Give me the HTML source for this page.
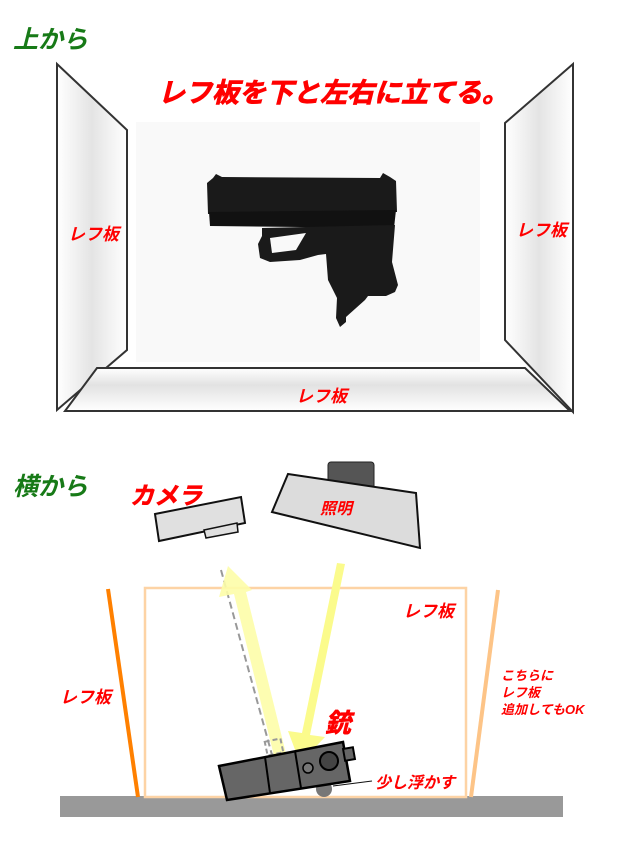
<!DOCTYPE html>
<html><head><meta charset="utf-8"><style>
body{margin:0;background:#fff;width:630px;height:846px;overflow:hidden}
svg text{font-family:"Liberation Sans","Noto Sans CJK JP",sans-serif;font-weight:bold;font-style:italic}
</style></head><body>
<svg width="630" height="846" viewBox="0 0 630 846" xmlns="http://www.w3.org/2000/svg">
<defs>
<linearGradient id="gl" x1="0" x2="1"><stop offset="0" stop-color="#fff"/><stop offset=".5" stop-color="#e4e4e4"/><stop offset="1" stop-color="#fff"/></linearGradient>
<linearGradient id="gb" x1="0" y1="0" x2="0" y2="1"><stop offset="0" stop-color="#fff"/><stop offset=".4" stop-color="#e2e2e2"/><stop offset="1" stop-color="#fff"/></linearGradient>
</defs>
<text x="13" y="48" font-size="25" fill="#177a17">上から</text>
<polygon points="57,64 127,130 127,350 57,410" fill="url(#gl)" stroke="#333" stroke-width="2"/>
<polygon points="573,64 505,123 505,340 573,412" fill="url(#gl)" stroke="#333" stroke-width="2"/>
<polygon points="97,368 525,368 570,411 65,411" fill="url(#gb)" stroke="#333" stroke-width="2"/>
<rect x="136" y="122" width="344" height="240" fill="#f9f9f9"/>
<text x="158" y="102" font-size="27" fill="#f00" stroke="#f00" stroke-width=".8">レフ板を下と左右に立てる。</text>
<text x="68" y="240" font-size="17" fill="#f00">レフ板</text>
<text x="516" y="236" font-size="17" fill="#f00">レフ板</text>
<text x="296" y="402" font-size="17" fill="#f00">レフ板</text>
<!-- gun top view -->
<g fill="#1a1a1a">
<path d="M207,183 L213,178 L216,174 L222,177 L380,178 L383,173 L390,177 L396,181 L397,212 L208,214 Z"/>
<path d="M209,212 L396,210 L394,228 L210,226 Z" fill="#111"/>
<path d="M262,228 L395,225 L392,262 L398,285 L395,292 L386,296 L368,296 L365,300 L346,317 L346,322 L340,327 L336,318 L337,298 L328,280 L326,254 L318,255 L300,260 L270,262 L260,258 L258,244 L262,236 Z"/>
</g>
<path d="M270,238 L306,233 L296,250 L272,253 Z" fill="#f9f9f9"/>
<!-- side view -->
<text x="13" y="495" font-size="25" fill="#177a17">横から</text>
<rect x="60" y="796" width="503" height="21" fill="#999"/>
<rect x="145" y="588" width="321" height="209" fill="none" stroke="#fdd3a5" stroke-width="2.5"/>
<line x1="108" y1="589" x2="138" y2="797" stroke="#ff8000" stroke-width="4"/>
<line x1="498" y1="590" x2="471" y2="797" stroke="#fdc487" stroke-width="4"/>
<!-- camera -->
<polygon points="155,514 241,497 245,523 159,541" fill="#e0e0e0" stroke="#111" stroke-width="2"/>
<polygon points="204,530 237,523 238,532 206,538" fill="#e0e0e0" stroke="#111" stroke-width="1.5"/>
<!-- light -->
<rect x="328" y="462" width="46" height="27" rx="3" fill="#555" stroke="#222"/>
<polygon points="288,474 416,493 420,548 272,512" fill="#dcdcdc" stroke="#111" stroke-width="2"/>
<text x="320" y="514" font-size="16" fill="#f00">照明</text>
<text x="130" y="504" font-size="24" fill="#f00" stroke="#f00" stroke-width=".6">カメラ</text>
<!-- arrows -->
<line x1="221" y1="570" x2="272" y2="755" stroke="#999" stroke-width="2" stroke-dasharray="7,4"/>
<polygon points="228,566 252,590 246,592 292,778 280,780 234,594 219,597" fill="#fdfda8" opacity=".9"/>
<polygon points="337,563 345,564 310,735 325,737 300,763 288,731 302,733" fill="#fbfb8c"/>
<rect x="266" y="740" width="16" height="14" fill="none" stroke="#999" stroke-width="2" stroke-dasharray="5,3" transform="rotate(-12 274 747)"/>
<!-- gun side -->
<circle cx="324" cy="789" r="8" fill="#777"/>
<line x1="333" y1="786" x2="372" y2="781" stroke="#111"/>
<polygon points="219,766 343,742 350,781 227,800" fill="#666" stroke="#000" stroke-width="2.5"/>
<line x1="265" y1="757" x2="270" y2="793" stroke="#000" stroke-width="2"/>
<line x1="295" y1="751" x2="301" y2="788" stroke="#000" stroke-width="2"/>
<rect x="344" y="748" width="10" height="12" fill="#666" stroke="#000" stroke-width="2" transform="rotate(-10 349 754)"/>
<circle cx="329" cy="761" r="9" fill="#444" stroke="#000" stroke-width="2"/>
<circle cx="308" cy="768" r="5" fill="#777" stroke="#000" stroke-width="1.5"/>
<text x="325" y="732" font-size="26" fill="#f00" stroke="#f00" stroke-width=".6">銃</text>
<text x="375" y="788" font-size="16" fill="#f00">少し浮かす</text>
<text x="403" y="617" font-size="17" fill="#f00">レフ板</text>
<text x="60" y="703" font-size="17" fill="#f00">レフ板</text>
<text x="501" y="680" font-size="13" fill="#f00">こちらに</text>
<text x="501" y="697" font-size="13" fill="#f00">レフ板</text>
<text x="501" y="714" font-size="13" fill="#f00">追加してもOK</text>
</svg>
</body></html>
